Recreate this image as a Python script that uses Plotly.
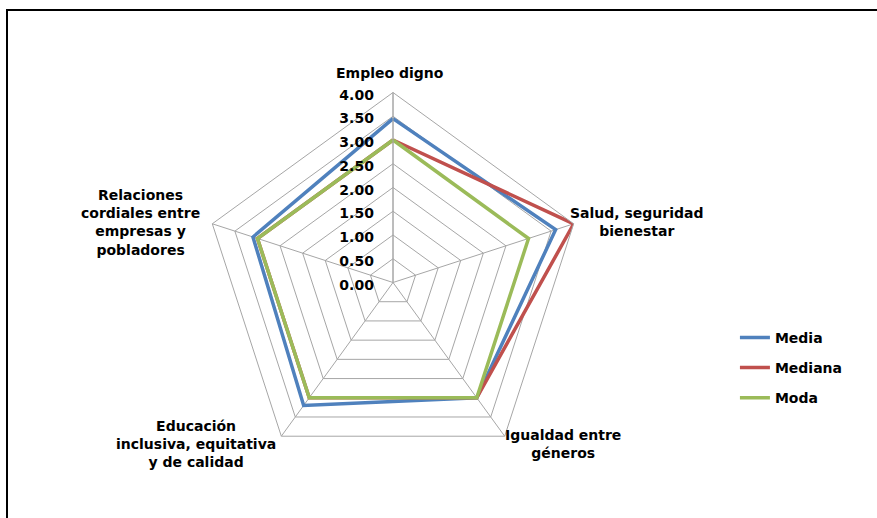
import plotly.graph_objects as go

# Dimensions evaluated (one spoke each, clockwise from the top)
categories = [
    "Empleo digno",
    "Salud, seguridad<br>bienestar",
    "Igualdad entre<br>géneros",
    "Educación<br>inclusiva, equitativa<br>y de calidad",
    "Relaciones<br>cordiales entre<br>empresas y<br>pobladores",
]

media = [3.45, 3.6, 3.0, 3.2, 3.1]
mediana = [3.0, 4.0, 3.0, 3.0, 3.0]
moda = [3.0, 3.0, 3.0, 3.0, 3.0]

radial_ticks = [0, 0.5, 1.0, 1.5, 2.0, 2.5, 3.0, 3.5, 4.0]

series = [
    ("Media", media, "#4F81BD"),
    ("Mediana", mediana, "#C0504D"),
    ("Moda", moda, "#9BBB59"),
]

FONT = "DejaVu Sans"
GRID = "#a6a6a6"

W, H = 877, 518
cx, cy, R = 393, 282.5, 190

fig = go.Figure()
for name, vals, color in series:
    # close each polygon by repeating the first point
    fig.add_trace(go.Scatterpolar(
        r=vals + vals[:1],
        theta=categories + categories[:1],
        mode="lines",
        name=name,
        legendgroup=name,
        line=dict(color=color, width=3.5),
    ))

fig.update_layout(
    width=W, height=H,
    margin=dict(l=0, r=0, t=0, b=0),
    paper_bgcolor="white",
    plot_bgcolor="white",
    font=dict(family=FONT, size=14, color="#000000", weight="bold"),
    polar=dict(
        domain=dict(x=[(cx - R) / W, (cx + R) / W], y=[1 - (cy + R) / H, 1 - (cy - R) / H]),
        gridshape="linear",
        bgcolor="white",
        radialaxis=dict(
            range=[0, 4],
            tickvals=radial_ticks,
            tickformat=".2f",
            angle=90,
            side="counterclockwise",
            showline=True,
            linecolor=GRID,
            linewidth=1,
            gridcolor=GRID,
            gridwidth=1,
            ticks="outside",
            ticklen=6,
            tickcolor="rgba(0,0,0,0)",
            tickfont=dict(family=FONT, size=14, weight="bold", color="#000000"),
        ),
        angularaxis=dict(
            direction="clockwise",
            rotation=90,
            showline=True,
            linecolor=GRID,
            linewidth=1,
            gridcolor=GRID,
            gridwidth=1,
            showticklabels=False,
            ticks="",
        ),
    ),
    legend=dict(
        x=0.838, y=0.29, xanchor="left", yanchor="middle",
        font=dict(family=FONT, size=14, weight="bold", color="#000000"),
        traceorder="grouped",
        tracegroupgap=9,
        bgcolor="rgba(0,0,0,0)",
    ),
    showlegend=True,
)

# Category labels around the pentagon
label_pos = [
    (390, 73),
    (637, 222),
    (563, 444),
    (196, 444),
    (140, 222),
]
for text, (x, y) in zip(categories, label_pos):
    fig.add_annotation(
        x=x / W, y=1 - y / H, xref="paper", yref="paper",
        text=text, showarrow=False, xanchor="center", yanchor="middle",
        align="center",
        font=dict(family=FONT, size=14, weight="bold", color="#000000"),
    )

# Chart frame
fig.add_shape(
    type="rect", xref="paper", yref="paper",
    x0=7 / W, y0=-0.05, x1=1.05, y1=1 - 10 / H,
    line=dict(color="#000000", width=2), fillcolor="rgba(0,0,0,0)", layer="above",
)

fig.write_html("out.html")
